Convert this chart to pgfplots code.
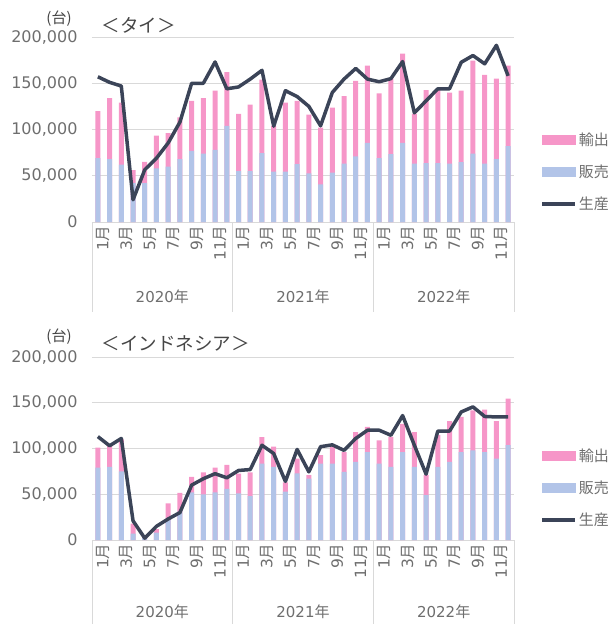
\documentclass[border=0pt]{standalone}
\usepackage{fontspec}
\setmainfont{Noto Sans CJK JP}
\newfontfamily\dv{DejaVu Sans}
\usepackage{pgfplots}
\usepackage{pgfplotstable}
\pgfplotsset{compat=1.18}
\definecolor{pinkc}{RGB}{246,150,200}
\definecolor{bluec}{RGB}{178,196,232}
\definecolor{linec}{RGB}{59,68,88}
\definecolor{gridc}{RGB}{217,217,217}
\definecolor{tickc}{RGB}{110,110,110}
\definecolor{titlec}{RGB}{70,70,70}

\pgfplotstableread{
m sales total prod
0 69000 120000 157000
1 68000 134000 151000
2 62000 129000 147000
3 42000 56000 24000
4 42000 65000 56500
5 58000 93500 69000
6 60000 96000 85500
7 68000 113000 108000
8 77000 131000 150000
9 74000 134000 150000
10 78000 142000 173000
11 104000 162000 144000
12 55000 117000 146000
13 55000 127000 154500
14 74500 154000 164000
15 54500 104000 103600
16 54500 129000 142000
17 62500 131000 135600
18 52700 116000 125000
19 40700 102000 104000
20 53500 123600 140000
21 63000 136000 154500
22 71000 152700 166000
23 85500 169000 154500
24 69000 139000 151600
25 73500 155000 155000
26 85500 182000 173500
27 63000 117000 118000
28 63600 142500 131000
29 63600 144000 144000
30 63000 140000 144000
31 64700 142000 172700
32 74000 174500 180000
33 63000 159000 171000
34 68000 155000 191000
35 82000 169000 158000
}\thai

\pgfplotstableread{
m sales total prod
0 79000 101000 113000
1 80000 104000 103000
2 75000 110000 111000
3 7000 18000 21000
4 2000 3600 2000
5 8000 12000 15000
6 22000 40000 23000
7 31000 51500 30000
8 52000 69000 60000
9 50000 74000 67000
10 52000 79000 72500
11 56000 82000 68000
12 51000 72500 76000
13 48000 74000 77000
14 83600 112500 103600
15 80000 102000 94500
16 53000 63000 64000
17 72700 89000 99000
18 67000 71000 74500
19 83600 92700 102000
20 83600 102000 104000
21 74500 96000 98000
22 85500 118000 111000
23 96000 123600 120000
24 83600 109000 120000
25 80000 112700 114500
26 96000 127000 136000
27 80000 118000 103600
28 49000 71000 72000
29 80000 114500 119000
30 85500 130000 119000
31 96000 134500 140000
32 98000 141800 145500
33 96000 142500 135000
34 89000 130000 134500
35 103600 154500 134500
}\indo

\tikzset{yearlab/.style={font=\fontsize{15}{15}\selectfont, text=tickc}}
\pgfplotsset{
  panel/.style={
    scale only axis, width=422pt,
    xmin=-0.5, xmax=35.5, ymin=0, ymax=200000,
    enlargelimits=false,
    ytick={0,50000,100000,150000,200000},
    scaled y ticks=false,
    yticklabel style={/pgf/number format/.cd, fixed, 1000 sep={,}, assume math mode=true,
      /tikz/.cd, font=\dv\fontsize{16}{16}\selectfont, text=tickc, xshift=-11pt},
    ymajorgrids, grid style={draw=gridc, line width=0.9pt},
    axis x line*=bottom, axis y line*=left,
    y axis line style={draw=none},
    x axis line style={draw=gridc, line width=0.9pt, -},
    major tick length=0pt,
    xtick={0,2,...,34},
    xticklabels={{\dv 1}月,{\dv 3}月,{\dv 5}月,{\dv 7}月,{\dv 9}月,{\dv 11}月,
                 {\dv 1}月,{\dv 3}月,{\dv 5}月,{\dv 7}月,{\dv 9}月,{\dv 11}月,
                 {\dv 1}月,{\dv 3}月,{\dv 5}月,{\dv 7}月,{\dv 9}月,{\dv 11}月},
    xticklabel style={rotate=90, anchor=east, font=\fontsize{15.5}{15.5}\selectfont, text=tickc, yshift=-5pt},
    clip=false,
    legend style={draw=none, fill=none, anchor=west, inner sep=0pt,
      font=\fontsize{15}{15}\selectfont, text=tickc, row sep=14pt,
      cells={anchor=west}},
  },
  pinkbar/.style={ybar, bar width=5pt, bar shift=0pt, fill=pinkc, draw=none, forget plot},
  bluebar/.style={ybar, bar width=5pt, bar shift=0pt, fill=bluec, draw=none, forget plot},
  prodline/.style={sharp plot, linec, line width=3.5pt, line join=round, no markers, forget plot},
}

\begin{document}
\begin{tikzpicture}
\path[use as bounding box] (0pt,0pt) rectangle (611pt,-624pt);

% ---------- Thailand ----------
\begin{axis}[panel, height=185pt, at={(92pt,-222pt)}, anchor=south west,
  legend style={at={(1.062,0.27)}}]
\addlegendimage{legend image code/.code={\fill[pinkc] (0pt,-4.5pt) rectangle (33pt,4.5pt);}}
\addlegendentry{輸出}
\addlegendimage{legend image code/.code={\fill[bluec] (0pt,-4.5pt) rectangle (33pt,4.5pt);}}
\addlegendentry{販売}
\addlegendimage{legend image code/.code={\draw[linec, line width=3.5pt] (0pt,0pt) -- (33pt,0pt);}}
\addlegendentry{生産}
\addplot[pinkbar] table[x=m, y=total] {\thai};
\addplot[bluebar] table[x=m, y=sales] {\thai};
\addplot[prodline] table[x=m, y=prod] {\thai};
\foreach \s in {-0.5,11.5,23.5,35.5}{
  \edef\tmp{\noexpand\draw[gridc, line width=0.9pt] (axis cs:\s,0) -- ++(0pt,-90pt);}\tmp
}
\node[yearlab] at (axis cs:5.5,0) [yshift=-75pt] {{\dv 2020}年};
\node[yearlab] at (axis cs:17.5,0) [yshift=-75pt] {{\dv 2021}年};
\node[yearlab] at (axis cs:29.5,0) [yshift=-75pt] {{\dv 2022}年};
\end{axis}
\node[font=\fontsize{15}{15}\selectfont, text=titlec] at (59pt,-19pt) {(台)};
\node[anchor=west, font=\fontsize{18.5}{18.5}\selectfont, text=titlec] at (98pt,-25pt) {＜タイ＞};

% ---------- Indonesia ----------
\begin{axis}[panel, height=183pt, at={(92pt,-540pt)}, anchor=south west,
  legend style={at={(1.062,0.284)}}]
\addlegendimage{legend image code/.code={\fill[pinkc] (0pt,-4.5pt) rectangle (33pt,4.5pt);}}
\addlegendentry{輸出}
\addlegendimage{legend image code/.code={\fill[bluec] (0pt,-4.5pt) rectangle (33pt,4.5pt);}}
\addlegendentry{販売}
\addlegendimage{legend image code/.code={\draw[linec, line width=3.5pt] (0pt,0pt) -- (33pt,0pt);}}
\addlegendentry{生産}
\addplot[pinkbar] table[x=m, y=total] {\indo};
\addplot[bluebar] table[x=m, y=sales] {\indo};
\addplot[prodline] table[x=m, y=prod] {\indo};
\foreach \s in {-0.5,11.5,23.5,35.5}{
  \edef\tmp{\noexpand\draw[gridc, line width=0.9pt] (axis cs:\s,0) -- ++(0pt,-84pt);}\tmp
}
\node[yearlab] at (axis cs:5.5,0) [yshift=-72pt] {{\dv 2020}年};
\node[yearlab] at (axis cs:17.5,0) [yshift=-72pt] {{\dv 2021}年};
\node[yearlab] at (axis cs:29.5,0) [yshift=-72pt] {{\dv 2022}年};
\end{axis}
\node[font=\fontsize{15}{15}\selectfont, text=titlec] at (59pt,-337pt) {(台)};
\node[anchor=west, font=\fontsize{18.5}{18.5}\selectfont, text=titlec] at (98pt,-343pt) {＜インドネシア＞};
\end{tikzpicture}
\end{document}
